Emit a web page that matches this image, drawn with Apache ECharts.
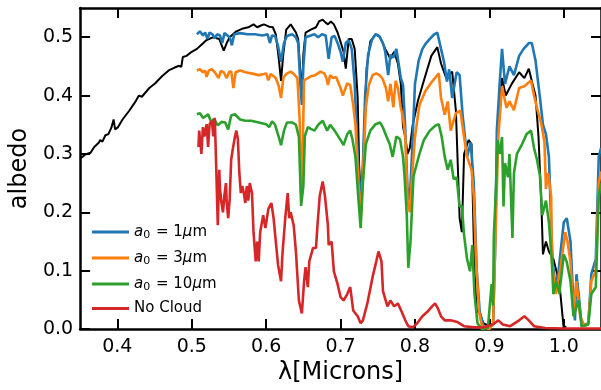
<!DOCTYPE html>
<html><head><meta charset="utf-8">
<script src="https://cdn.jsdelivr.net/npm/echarts@6/dist/echarts.min.js"></script>
<style>html,body{margin:0;padding:0;background:#fff}#c{width:601px;height:390px}</style>
</head><body><div id="c"></div>
<script>
// ---------- data ----------
const xTicks = [0.4,0.5,0.6,0.7,0.8,0.9,1.0];
const yTicks = [0.0,0.1,0.2,0.3,0.4,0.5];
const seriesNames = ['a1','a3','a10','none'];

// black reference spectrum [wavelength (micron), albedo]
const refSpectrum = [[0.350,0.292],[0.357,0.299],[0.364,0.302],[0.369,0.312],[0.375,0.319],[0.377,0.324],[0.380,0.321],[0.384,0.332],[0.388,0.334],[0.392,0.345],[0.395,0.359],[0.397,0.342],[0.401,0.346],[0.407,0.359],[0.416,0.374],[0.425,0.391],[0.429,0.400],[0.433,0.398],[0.443,0.413],[0.451,0.421],[0.460,0.433],[0.469,0.443],[0.477,0.448],[0.483,0.451],[0.486,0.449],[0.488,0.466],[0.493,0.468],[0.500,0.475],[0.507,0.480],[0.513,0.487],[0.520,0.495],[0.529,0.500],[0.537,0.497],[0.540,0.487],[0.543,0.477],[0.547,0.490],[0.551,0.500],[0.560,0.510],[0.569,0.515],[0.576,0.517],[0.583,0.522],[0.588,0.517],[0.593,0.520],[0.597,0.522],[0.604,0.518],[0.609,0.517],[0.613,0.505],[0.617,0.463],[0.620,0.425],[0.623,0.470],[0.627,0.513],[0.633,0.522],[0.640,0.508],[0.643,0.497],[0.646,0.440],[0.648,0.400],[0.650,0.470],[0.653,0.508],[0.660,0.513],[0.667,0.517],[0.671,0.527],[0.676,0.530],[0.680,0.525],[0.683,0.522],[0.687,0.527],[0.691,0.522],[0.696,0.508],[0.700,0.492],[0.704,0.475],[0.707,0.446],[0.711,0.497],[0.715,0.497],[0.719,0.480],[0.723,0.396],[0.725,0.279],[0.728,0.211],[0.731,0.312],[0.735,0.446],[0.740,0.493],[0.747,0.505],[0.753,0.500],[0.760,0.480],[0.767,0.463],[0.772,0.475],[0.777,0.455],[0.781,0.420],[0.784,0.346],[0.787,0.329],[0.790,0.300],[0.793,0.310],[0.797,0.350],[0.804,0.391],[0.813,0.430],[0.822,0.468],[0.830,0.483],[0.835,0.455],[0.842,0.430],[0.850,0.441],[0.855,0.374],[0.860,0.190],[0.863,0.166],[0.866,0.300],[0.872,0.324],[0.876,0.317],[0.880,0.099],[0.883,0.032],[0.887,0.027],[0.892,0.010],[0.900,0.005],[0.905,0.010],[0.909,0.250],[0.913,0.380],[0.917,0.430],[0.922,0.400],[0.930,0.420],[0.940,0.440],[0.947,0.430],[0.953,0.446],[0.958,0.420],[0.962,0.400],[0.966,0.330],[0.970,0.210],[0.972,0.128],[0.976,0.150],[0.980,0.133],[0.986,0.120],[0.990,0.100],[0.994,0.080],[1.000,0.000],[1.003,0.005]];

// a0 = 1 micron
const cloudA1 = [[0.507,0.505],[0.511,0.510],[0.515,0.503],[0.518,0.508],[0.521,0.497],[0.524,0.508],[0.528,0.505],[0.531,0.498],[0.534,0.505],[0.538,0.503],[0.541,0.490],[0.544,0.507],[0.548,0.503],[0.551,0.500],[0.554,0.486],[0.557,0.505],[0.565,0.507],[0.575,0.505],[0.585,0.505],[0.595,0.503],[0.602,0.505],[0.605,0.490],[0.608,0.503],[0.612,0.502],[0.616,0.485],[0.620,0.458],[0.624,0.490],[0.628,0.502],[0.635,0.505],[0.640,0.500],[0.643,0.490],[0.646,0.420],[0.648,0.384],[0.650,0.450],[0.653,0.500],[0.660,0.503],[0.665,0.505],[0.670,0.500],[0.675,0.505],[0.680,0.503],[0.684,0.463],[0.688,0.500],[0.692,0.502],[0.696,0.490],[0.700,0.475],[0.703,0.458],[0.707,0.490],[0.711,0.495],[0.715,0.480],[0.719,0.420],[0.723,0.300],[0.727,0.210],[0.730,0.280],[0.733,0.400],[0.737,0.470],[0.742,0.495],[0.747,0.505],[0.752,0.502],[0.757,0.490],[0.760,0.475],[0.764,0.435],[0.767,0.470],[0.771,0.465],[0.775,0.480],[0.778,0.455],[0.781,0.430],[0.784,0.418],[0.787,0.340],[0.790,0.240],[0.793,0.220],[0.796,0.300],[0.800,0.420],[0.805,0.460],[0.810,0.480],[0.815,0.490],[0.820,0.497],[0.826,0.505],[0.830,0.508],[0.835,0.480],[0.839,0.458],[0.843,0.424],[0.846,0.445],[0.850,0.396],[0.856,0.440],[0.860,0.435],[0.864,0.367],[0.870,0.295],[0.875,0.320],[0.879,0.250],[0.883,0.100],[0.887,0.030],[0.892,0.005],[0.900,0.000],[0.905,0.010],[0.908,0.150],[0.910,0.340],[0.914,0.424],[0.917,0.480],[0.921,0.420],[0.927,0.450],[0.933,0.435],[0.940,0.468],[0.946,0.480],[0.953,0.490],[0.957,0.490],[0.962,0.460],[0.968,0.396],[0.972,0.350],[0.976,0.334],[0.980,0.295],[0.983,0.183],[0.985,0.115],[0.989,0.072],[0.993,0.100],[1.000,0.183],[1.004,0.190],[1.009,0.150],[1.012,0.070],[1.015,0.015],[1.017,0.094],[1.020,0.060],[1.024,0.005],[1.033,0.010],[1.037,0.094],[1.043,0.120],[1.047,0.295],[1.050,0.310]];

// a0 = 3 micron
const cloudA3 = [[0.507,0.443],[0.511,0.445],[0.515,0.440],[0.518,0.443],[0.520,0.432],[0.523,0.443],[0.527,0.445],[0.531,0.440],[0.536,0.430],[0.539,0.442],[0.543,0.440],[0.547,0.430],[0.550,0.440],[0.553,0.442],[0.556,0.413],[0.559,0.440],[0.565,0.443],[0.572,0.440],[0.580,0.438],[0.590,0.435],[0.597,0.437],[0.600,0.438],[0.603,0.426],[0.606,0.437],[0.610,0.433],[0.613,0.430],[0.617,0.416],[0.620,0.396],[0.623,0.430],[0.627,0.437],[0.633,0.441],[0.638,0.436],[0.642,0.430],[0.645,0.360],[0.647,0.230],[0.649,0.300],[0.651,0.426],[0.656,0.430],[0.660,0.433],[0.666,0.435],[0.673,0.441],[0.678,0.438],[0.681,0.430],[0.683,0.418],[0.686,0.435],[0.690,0.430],[0.694,0.432],[0.700,0.413],[0.703,0.400],[0.709,0.421],[0.713,0.418],[0.717,0.384],[0.720,0.350],[0.724,0.250],[0.727,0.190],[0.730,0.260],[0.734,0.380],[0.738,0.418],[0.743,0.435],[0.748,0.438],[0.752,0.435],[0.756,0.430],[0.761,0.413],[0.764,0.390],[0.767,0.420],[0.771,0.380],[0.774,0.425],[0.777,0.413],[0.781,0.379],[0.784,0.362],[0.787,0.329],[0.790,0.220],[0.793,0.200],[0.796,0.260],[0.800,0.329],[0.806,0.384],[0.814,0.408],[0.823,0.424],[0.832,0.438],[0.835,0.396],[0.840,0.367],[0.844,0.390],[0.848,0.340],[0.855,0.370],[0.861,0.374],[0.866,0.329],[0.870,0.295],[0.876,0.273],[0.879,0.228],[0.882,0.120],[0.886,0.030],[0.890,0.005],[0.900,0.000],[0.905,0.010],[0.908,0.150],[0.912,0.329],[0.917,0.416],[0.923,0.379],[0.927,0.390],[0.933,0.375],[0.940,0.413],[0.947,0.416],[0.956,0.426],[0.960,0.400],[0.964,0.379],[0.970,0.350],[0.974,0.320],[0.976,0.240],[0.979,0.267],[0.983,0.228],[0.984,0.115],[0.989,0.060],[0.995,0.100],[1.002,0.166],[1.005,0.150],[1.009,0.115],[1.013,0.027],[1.017,0.082],[1.022,0.022],[1.028,0.005],[1.033,0.010],[1.037,0.082],[1.043,0.100],[1.047,0.250],[1.050,0.270]];

// a0 = 10 micron
const cloudA10 = [[0.507,0.368],[0.511,0.370],[0.515,0.362],[0.519,0.365],[0.522,0.368],[0.526,0.355],[0.530,0.360],[0.535,0.349],[0.540,0.355],[0.545,0.354],[0.549,0.342],[0.553,0.366],[0.558,0.368],[0.565,0.359],[0.572,0.357],[0.580,0.357],[0.590,0.354],[0.600,0.351],[0.604,0.346],[0.608,0.356],[0.612,0.350],[0.617,0.329],[0.620,0.315],[0.624,0.340],[0.628,0.354],[0.635,0.354],[0.640,0.350],[0.644,0.329],[0.647,0.211],[0.650,0.245],[0.652,0.330],[0.656,0.346],[0.660,0.343],[0.665,0.340],[0.670,0.350],[0.676,0.357],[0.682,0.340],[0.686,0.350],[0.692,0.340],[0.700,0.324],[0.704,0.315],[0.709,0.334],[0.713,0.340],[0.716,0.325],[0.720,0.295],[0.724,0.223],[0.727,0.173],[0.730,0.250],[0.734,0.317],[0.740,0.340],[0.747,0.351],[0.753,0.354],[0.757,0.345],[0.762,0.329],[0.766,0.317],[0.770,0.295],[0.775,0.330],[0.780,0.325],[0.784,0.295],[0.786,0.262],[0.789,0.195],[0.791,0.105],[0.794,0.150],[0.798,0.262],[0.806,0.300],[0.812,0.324],[0.820,0.340],[0.828,0.349],[0.832,0.351],[0.836,0.329],[0.840,0.295],[0.844,0.273],[0.848,0.290],[0.852,0.257],[0.856,0.260],[0.860,0.210],[0.863,0.211],[0.866,0.161],[0.870,0.120],[0.874,0.099],[0.877,0.144],[0.880,0.060],[0.884,0.010],[0.890,0.000],[0.898,0.002],[0.903,0.077],[0.905,0.040],[0.906,0.160],[0.909,0.245],[0.911,0.324],[0.914,0.300],[0.917,0.329],[0.919,0.210],[0.921,0.284],[0.925,0.260],[0.927,0.300],[0.931,0.156],[0.933,0.267],[0.937,0.300],[0.944,0.317],[0.950,0.334],[0.956,0.340],[0.960,0.310],[0.964,0.290],[0.968,0.262],[0.971,0.195],[0.976,0.220],[0.980,0.183],[0.984,0.115],[0.986,0.060],[0.990,0.082],[0.994,0.060],[1.000,0.128],[1.004,0.115],[1.009,0.082],[1.013,0.022],[1.020,0.049],[1.024,0.005],[1.033,0.008],[1.037,0.060],[1.043,0.072],[1.047,0.228],[1.050,0.250]];

// no cloud
const noCloud = [[0.509,0.312],[0.510,0.340],[0.513,0.300],[0.515,0.346],[0.517,0.330],[0.520,0.351],[0.522,0.312],[0.524,0.351],[0.527,0.357],[0.529,0.330],[0.531,0.362],[0.533,0.273],[0.535,0.178],[0.537,0.273],[0.538,0.240],[0.540,0.216],[0.542,0.200],[0.544,0.230],[0.546,0.250],[0.547,0.216],[0.549,0.190],[0.551,0.223],[0.553,0.290],[0.555,0.307],[0.558,0.329],[0.560,0.340],[0.562,0.325],[0.564,0.267],[0.566,0.233],[0.568,0.245],[0.570,0.233],[0.572,0.216],[0.574,0.245],[0.576,0.220],[0.578,0.250],[0.581,0.233],[0.583,0.166],[0.586,0.116],[0.588,0.150],[0.590,0.116],[0.592,0.166],[0.596,0.195],[0.599,0.173],[0.603,0.206],[0.607,0.216],[0.610,0.190],[0.613,0.150],[0.616,0.110],[0.620,0.082],[0.622,0.130],[0.626,0.195],[0.629,0.233],[0.631,0.190],[0.633,0.200],[0.637,0.178],[0.640,0.133],[0.644,0.049],[0.648,0.027],[0.651,0.082],[0.653,0.106],[0.656,0.072],[0.658,0.116],[0.663,0.139],[0.667,0.139],[0.669,0.178],[0.672,0.228],[0.676,0.253],[0.679,0.228],[0.683,0.178],[0.684,0.144],[0.688,0.150],[0.691,0.099],[0.696,0.077],[0.700,0.055],[0.704,0.049],[0.709,0.060],[0.713,0.072],[0.717,0.032],[0.723,0.022],[0.727,0.010],[0.730,0.015],[0.736,0.044],[0.743,0.089],[0.748,0.116],[0.751,0.133],[0.755,0.116],[0.757,0.065],[0.763,0.039],[0.767,0.049],[0.772,0.039],[0.777,0.044],[0.782,0.030],[0.787,0.015],[0.791,0.005],[0.797,0.003],[0.803,0.010],[0.810,0.022],[0.817,0.030],[0.823,0.039],[0.827,0.044],[0.831,0.035],[0.835,0.022],[0.840,0.015],[0.848,0.015],[0.857,0.012],[0.866,0.005],[0.880,0.003],[0.893,0.003],[0.905,0.008],[0.912,0.015],[0.918,0.008],[0.928,0.005],[0.940,0.015],[0.947,0.022],[0.953,0.015],[0.960,0.005],[0.975,0.002],[1.000,0.001],[1.050,0.001]];

// ---------- chart ----------
const FONT = 'DejaVu Sans';
const legendLabels = {
  a1: '{i|a}{s|0}{n| = 1}{i|μ}{n|m}',
  a3: '{i|a}{s|0}{n| = 3}{i|μ}{n|m}',
  a10: '{i|a}{s|0}{n| = 10}{i|μ}{n|m}',
  none: '{n|No Cloud}'
};
const chart = echarts.init(document.getElementById('c'), null, {renderer:'canvas'});
const axisCommon = () => ({
  axisLine: {show:true, onZero:false, lineStyle:{color:'#000', width:2.5}},
  splitLine: {show:false},
});
chart.setOption({
  animation: false,
  backgroundColor: '#fff',
  grid: {left: 77.5, top: 8, width: 525, height: 328, containLabel: false},
  legend: {
    orient: 'vertical', left: 92, top: 223, padding: 0, itemGap: 8,
    itemWidth: 37, itemHeight: 3, icon: 'rect',
    data: seriesNames,
    formatter: n => legendLabels[n],
    textStyle: {
      color: '#000', fontFamily: FONT, fontSize: 15,
      rich: {
        n: {fontFamily: FONT, fontSize: 15, color:'#000', lineHeight: 18},
        i: {fontFamily: FONT, fontSize: 15, fontStyle: 'italic', color:'#000', lineHeight: 18},
        s: {fontFamily: FONT, fontSize: 11, color:'#000', lineHeight: 18, padding: [7,1,0,0]}
      }
    }
  },
  xAxis: [
    Object.assign(axisCommon(), {
      type: 'value', min: 0.35, max: 1.05, position: 'bottom',
      name: 'λ[Microns]', nameLocation: 'middle', nameGap: 31,
      nameTextStyle: {fontFamily: FONT, fontSize: 24, color:'#000'},
      axisTick: {show:true, inside:true, length:10, lineStyle:{color:'#000', width:2}, customValues: xTicks},
      axisLabel: {show:true, margin: 8, fontFamily: FONT, fontSize: 19, color:'#000', customValues: xTicks, formatter: v => v.toFixed(1)}
    }),
    Object.assign(axisCommon(), {
      type: 'value', min: 0.35, max: 1.05, position: 'top',
      axisTick: {show:true, inside:true, length:10, lineStyle:{color:'#000', width:2}, customValues: xTicks},
      axisLabel: {show:false}
    })
  ],
  yAxis: [
    Object.assign(axisCommon(), {
      type: 'value', min: 0, max: 0.55, position: 'left',
      name: 'albedo', nameLocation: 'middle', nameGap: 42, nameRotate: 90,
      nameTextStyle: {fontFamily: FONT, fontSize: 24, color:'#000'},
      axisTick: {show:true, inside:true, length:10, lineStyle:{color:'#000', width:2}, customValues: yTicks},
      axisLabel: {show:true, margin: 7, fontFamily: FONT, fontSize: 19, color:'#000', customValues: yTicks, formatter: v => v.toFixed(1)}
    }),
    Object.assign(axisCommon(), {
      type: 'value', min: 0, max: 0.55, position: 'right',
      axisTick: {show:true, inside:true, length:10, lineStyle:{color:'#000', width:2}, customValues: yTicks},
      axisLabel: {show:false}
    })
  ],
  series: [
    {type:'line', name:'ref', data: refSpectrum, showSymbol:false, symbol:'none', lineStyle:{color:'#000', width:2}, itemStyle:{color:'#000'}, z:2},
    {type:'line', name:'a1', data: cloudA1, showSymbol:false, symbol:'none', lineStyle:{color:'#1f77b4', width:2.6}, itemStyle:{color:'#1f77b4'}, z:3},
    {type:'line', name:'a3', data: cloudA3, showSymbol:false, symbol:'none', lineStyle:{color:'#ff7f0e', width:2.6}, itemStyle:{color:'#ff7f0e'}, z:4},
    {type:'line', name:'a10', data: cloudA10, showSymbol:false, symbol:'none', lineStyle:{color:'#2ca02c', width:2.6}, itemStyle:{color:'#2ca02c'}, z:5},
    {type:'line', name:'none', data: noCloud, showSymbol:false, symbol:'none', lineStyle:{color:'#d62728', width:2.6}, itemStyle:{color:'#d62728'}, z:6}
  ]
});
</script>
</body></html>
